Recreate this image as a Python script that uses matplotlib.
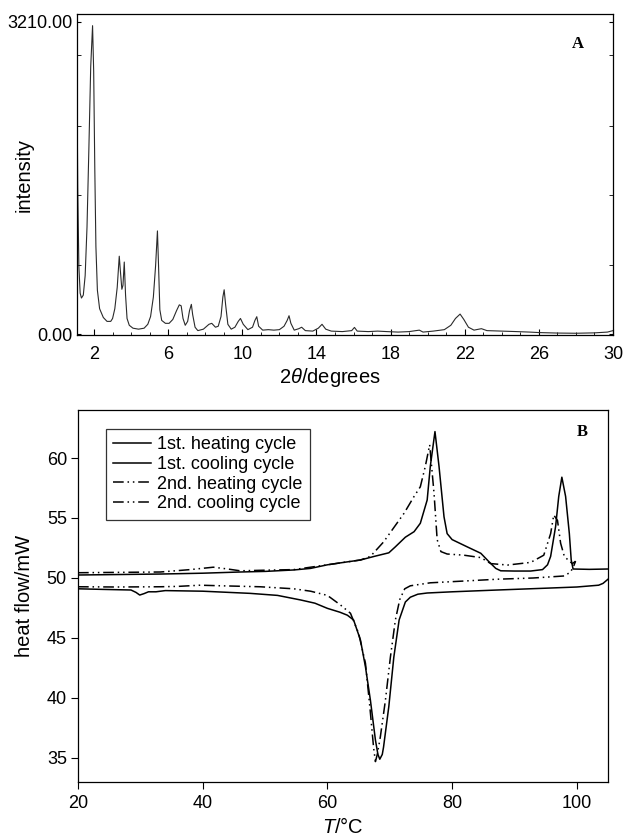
import matplotlib
matplotlib.use("Agg")
import matplotlib.pyplot as plt
from matplotlib.ticker import FixedLocator, FormatStrFormatter

plt.rcParams['font.family'] = ['Liberation Sans', 'DejaVu Sans']
plt.rcParams['mathtext.fontset'] = 'custom'
plt.rcParams['mathtext.it'] = 'Liberation Sans:italic'
plt.rcParams['mathtext.rm'] = 'Liberation Sans'

# ---------------- Panel A: XRD ----------------
two_theta = [1.08, 1.12, 1.18, 1.25, 1.32, 1.42, 1.52, 1.62, 1.72, 1.82, 1.92, 1.98, 2.04, 2.10, 2.18,
             2.30, 2.50, 2.70, 2.90, 3.00, 3.12, 3.25, 3.36, 3.42, 3.50, 3.56, 3.63, 3.70, 3.78, 3.90,
             4.10, 4.40, 4.70, 4.90, 5.05, 5.20, 5.32, 5.42, 5.48, 5.55, 5.65, 5.85, 6.05, 6.25, 6.45,
             6.60, 6.70, 6.80, 6.92, 7.05, 7.15, 7.25, 7.32, 7.45, 7.60, 7.90, 8.20, 8.35, 8.55, 8.70,
             8.85, 8.95, 9.02, 9.10, 9.22, 9.40, 9.60, 9.78, 9.90, 10.05, 10.30, 10.55, 10.68, 10.78,
             10.88, 11.10, 11.40, 11.70, 12.00, 12.25, 12.42, 12.52, 12.62, 12.80, 13.05, 13.20, 13.40,
             13.80, 14.10, 14.30, 14.50, 14.80, 15.40, 15.90, 16.05, 16.20, 16.80, 17.30, 17.80, 18.40,
             19.00, 19.55, 19.75, 20.30, 20.90, 21.25, 21.50, 21.75, 21.95, 22.20, 22.50, 22.90, 23.20,
             24.00, 24.80, 25.50, 26.00, 27.00, 28.00, 29.00, 29.70, 30.00]
intensity = [2545, 1500, 700, 420, 370, 400, 600, 1100, 1900, 2750, 3170, 2700, 1700, 900, 450,
             260, 170, 130, 130, 160, 260, 480, 800, 650, 460, 500, 740, 400, 160, 90,
             60, 50, 60, 100, 180, 380, 700, 1060, 700, 250, 140, 110, 110, 150, 240,
             300, 290, 160, 90, 130, 240, 305, 200, 70, 35, 50, 100, 110, 70, 80,
             180, 380, 455, 300, 100, 50, 70, 130, 160, 100, 45, 70, 140, 178,
             80, 40, 45, 40, 45, 80, 140, 188, 110, 40, 55, 70, 35,
             30, 60, 100, 50, 30, 25, 35, 68, 30, 25, 30, 25, 20,
             25, 40, 20, 30, 45, 90, 160, 205, 150, 70, 40, 55, 35,
             30, 25, 20, 15, 10, 8, 12, 20, 35]
xrd_xticks = [2, 6, 10, 14, 18, 22, 26, 30]
xrd_yticks = [0, 3210]
xrd_minor_y = [710, 1425, 2140, 2870]

# ---------------- Panel B: DSC ----------------
heat1_T = [20, 24, 28.5, 29.3, 29.9, 30.6, 31.3, 32.5, 34, 40, 47.6, 52, 55.7, 58, 60.0, 62, 63.2, 64.2,
           65.3, 66.1, 66.9, 67.7, 68.1, 68.4, 68.8, 69.0, 69.85, 70.65, 71.5, 72.5, 73.3, 74.5, 76, 80,
           87.3, 95, 100, 103.5, 104.2, 105]
heat1_H = [49.1, 49.05, 49.0, 48.8, 48.58, 48.7, 48.85, 48.85, 48.95, 48.9, 48.72, 48.55, 48.17, 47.9,
           47.47, 47.15, 46.9, 46.5, 44.83, 42.6, 39.8, 36.5, 35.3, 34.9, 35.3, 35.9, 39.3, 43.4, 46.5,
           48.0, 48.4, 48.65, 48.75, 48.85, 49.0, 49.15, 49.25, 49.4, 49.55, 49.9]

cool1_T = [20, 33.2, 40, 46.0, 50, 54.6, 57.3, 60, 62.6, 65.3, 67.5, 69.85, 70.9, 72.5, 73.9, 74.9, 76.0,
           76.5, 77.25, 77.9, 78.7, 79.2, 80.0, 82.4, 84.6, 85.9, 87.0, 87.8, 90, 92.6, 94.5, 95.3, 95.8,
           96.6, 97.1, 97.6, 98.2, 98.8, 99.1, 99.4, 102, 105]
cool1_H = [50.25, 50.33, 50.4, 50.5, 50.55, 50.67, 50.8, 51.1, 51.3, 51.5, 51.8, 52.1, 52.6, 53.4, 53.86,
           54.56, 56.5, 59.3, 62.2, 59.3, 55.1, 53.7, 53.2, 52.6, 52.06, 51.36, 50.8, 50.6, 50.58, 50.58,
           50.7, 51.1, 51.8, 54.3, 56.8, 58.4, 56.8, 53.7, 51.5, 50.75, 50.72, 50.75]

heat2_T = [20, 26, 33.2, 36, 39.6, 43, 49.2, 54.6, 57.3, 60, 62.1, 63.7, 65.0, 66.1, 66.8, 67.4, 67.7,
           68.0, 68.5, 69.3, 70.1, 70.9, 71.6, 72.4, 73.3, 76.5, 82, 87.3, 93, 98.0, 99.0, 99.5, 99.8]
heat2_H = [49.27, 49.25, 49.27, 49.3, 49.4, 49.35, 49.27, 49.1, 48.9, 48.55, 47.75, 47.06, 45.4, 42.9,
           39.3, 35.9, 34.7, 35.3, 36.8, 39.8, 43.4, 46.5, 48.2, 49.1, 49.35, 49.6, 49.75, 49.9, 50.0,
           50.17, 50.5, 51.0, 51.4]

cool2_T = [20, 33.2, 38, 41.7, 44, 46.0, 50, 54.6, 60, 62.6, 65.3, 66.9, 69.0, 70.65, 72.3, 73.9, 74.9,
           75.7, 76.4, 77.1, 77.6, 78.2, 79.2, 81.9, 84.6, 86.2, 88.9, 92.6, 94.7, 95.8, 96.3, 96.9, 97.4,
           98.0, 98.8, 99.3, 99.8]
cool2_H = [50.44, 50.5, 50.7, 50.9, 50.75, 50.6, 50.65, 50.7, 51.1, 51.3, 51.5, 51.8, 53.0, 54.2, 55.4,
           56.8, 57.6, 59.3, 61.1, 57.06, 53.2, 52.2, 52.0, 51.9, 51.7, 51.2, 51.08, 51.3, 51.9, 53.7,
           55.25, 54.8, 52.9, 51.8, 51.4, 51.2, 51.4]

series_labels = ["1st. heating cycle", "1st. cooling cycle", "2nd. heating cycle", "2nd. cooling cycle"]
dsc_xticks = [20, 40, 60, 80, 100]
dsc_yticks = [35, 40, 45, 50, 55, 60]

FS = 13
LFS = 14.5
ddot = (0, (7, 2.5, 1, 2.5, 1, 2.5))

fig = plt.figure(figsize=(6.26, 8.36), dpi=100)

# Panel A
axA = fig.add_axes([77/626, 1-335/836, (613-77)/626, (335-14)/836])
axA.plot(two_theta, intensity, color='#2a2a2a', lw=0.8)
axA.set_xlim(1.08, 30)
axA.set_ylim(-10, 3290)
axA.set_xticks(xrd_xticks)
axA.xaxis.set_minor_locator(FixedLocator(list(range(2, 30))))
axA.set_yticks(xrd_yticks)
axA.yaxis.set_major_formatter(FormatStrFormatter('%.2f'))
axA.yaxis.set_minor_locator(FixedLocator(xrd_minor_y))
axA.tick_params(axis='x', which='major', direction='in', length=4, labelsize=FS, pad=8)
axA.tick_params(axis='x', which='minor', direction='in', length=2.5)
axA.tick_params(axis='y', which='both', direction='in', length=3, labelsize=FS, pad=3,
                left=True, right=True)
axA.set_xlabel(r'2$\theta$/degrees', fontsize=LFS)
axA.xaxis.set_label_coords(0.4725, -0.098)
axA.xaxis.label.set_va('top')
axA.set_ylabel('intensity', fontsize=LFS)
axA.yaxis.set_label_coords(-0.080, 0.5)
axA.text(0.935, 0.905, 'A', transform=axA.transAxes, fontsize=12, fontweight='bold',
         family='Liberation Serif', ha='center', va='center')
for s in axA.spines.values():
    s.set_linewidth(0.9)

# Panel B
axB = fig.add_axes([78/626, 1-782/836, (608-78)/626, (782-410)/836])
axB.plot(heat1_T, heat1_H, color='black', lw=1.1, ls='-', label=series_labels[0])
axB.plot(cool1_T, cool1_H, color='black', lw=1.1, ls='-', label=series_labels[1])
axB.plot(heat2_T, heat2_H, color='black', lw=1.1, ls=ddot, label=series_labels[2])
axB.plot(cool2_T, cool2_H, color='black', lw=1.1, ls=ddot, label=series_labels[3])
axB.set_xlim(20, 105)
axB.set_ylim(33, 64)
axB.set_xticks(dsc_xticks)
axB.set_yticks(dsc_yticks)
axB.tick_params(axis='both', which='major', direction='out', length=5, labelsize=FS, pad=3)
axB.tick_params(axis='x', pad=4)
axB.set_xlabel(r'$\it{T}$/°C', fontsize=LFS)
axB.xaxis.set_label_coords(0.5, -0.093)
axB.xaxis.label.set_va('top')
axB.set_ylabel('heat flow/mW', fontsize=LFS)
axB.yaxis.set_label_coords(-0.083, 0.5)
axB.text(0.951, 0.94, 'B', transform=axB.transAxes, fontsize=12, fontweight='bold',
         family='Liberation Serif', ha='center', va='center')
leg = axB.legend(loc='upper left', bbox_to_anchor=(0.0528, 0.949), borderaxespad=0,
                 fontsize=FS, frameon=True, fancybox=False, edgecolor='black',
                 handlelength=2.1, handletextpad=0.35, labelspacing=0.15, borderpad=0.4)
leg.get_frame().set_linewidth(0.9)
for s in axB.spines.values():
    s.set_linewidth(0.9)

fig.savefig('out.png', dpi=100)
